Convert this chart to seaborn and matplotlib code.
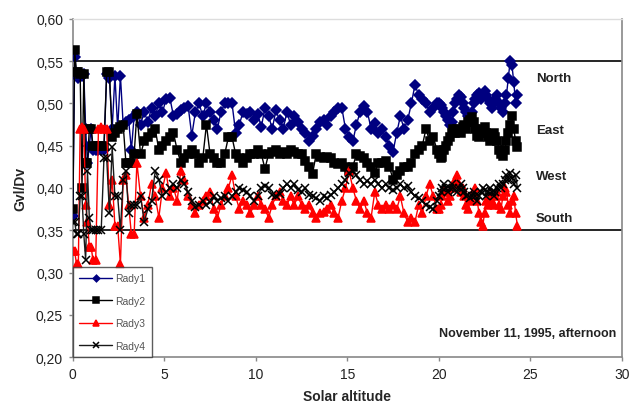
import matplotlib
matplotlib.use("Agg")
import matplotlib.pyplot as plt
from matplotlib.ticker import FuncFormatter
import seaborn as sns
import pandas as pd

# ---- data -----------------------------------------------------------------
x_early = [0.0, 0.1, 0.2, 0.3, 0.4, 0.5, 0.6, 0.7, 0.8, 0.9, 1.0, 1.1, 1.25, 1.4,
           1.55, 1.7, 1.85, 2.0, 2.15, 2.3, 2.45, 2.6, 2.75, 2.9, 3.05, 3.2, 3.35, 3.5]
x_mid = [3.7, 3.9, 4.1, 4.3, 4.5, 4.7, 4.9, 5.1, 5.3, 5.5,
         5.7, 5.9, 6.1, 6.3, 6.5, 6.7, 6.9, 7.1, 7.3, 7.5,
         7.7, 7.9, 8.1, 8.3, 8.5, 8.7, 8.9, 9.1, 9.3, 9.5,
         9.7, 9.9, 10.1, 10.3, 10.5, 10.7, 10.9, 11.1, 11.3, 11.5,
         11.7, 11.9, 12.1, 12.3, 12.5, 12.7, 12.9, 13.1, 13.3, 13.5,
         13.7, 13.9, 14.1, 14.3, 14.5, 14.7, 14.9, 15.1, 15.3, 15.5,
         15.7, 15.9, 16.1, 16.3, 16.5, 16.7, 16.9, 17.1, 17.3, 17.5,
         17.7, 17.9, 18.1, 18.3, 18.5, 18.7, 18.9, 19.1, 19.3, 19.5,
         19.7, 19.9]
x_late = [20.0, 20.1, 20.2, 20.3, 20.4, 20.5, 20.6, 20.7, 20.8, 20.9,
          21.0, 21.1, 21.2, 21.3, 21.4, 21.5, 21.6, 21.7, 21.8, 21.9,
          22.0, 22.1, 22.2, 22.3, 22.4, 22.5, 22.6, 22.7, 22.8, 22.9,
          23.0, 23.1, 23.2, 23.3, 23.4, 23.5, 23.6, 23.7, 23.8, 23.9,
          24.0, 24.1, 24.2, 24.3]
solar_altitude = x_early + x_mid + x_late

rady1 = [0.367, 0.555, 0.532, 0.530, 0.535, 0.533, 0.535, 0.470, 0.430, 0.450,
         0.470, 0.445, 0.445, 0.445, 0.445, 0.445, 0.535, 0.530, 0.470, 0.533,
         0.470, 0.533, 0.475, 0.478, 0.480, 0.445, 0.485, 0.490,
         0.475, 0.490, 0.478, 0.495, 0.485, 0.500, 0.490, 0.505, 0.507, 0.485,
         0.488, 0.492, 0.495, 0.497, 0.462, 0.490, 0.500, 0.485, 0.500, 0.490,
         0.480, 0.470, 0.490, 0.500, 0.500, 0.500, 0.465, 0.475, 0.490, 0.487,
         0.490, 0.480, 0.488, 0.472, 0.495, 0.485, 0.470, 0.492, 0.480, 0.470,
         0.490, 0.475, 0.485, 0.478, 0.470, 0.465, 0.455, 0.462, 0.470, 0.478,
         0.480, 0.475, 0.485, 0.490, 0.495, 0.495, 0.470, 0.460, 0.455, 0.475,
         0.490, 0.497, 0.490, 0.470, 0.477, 0.465, 0.470, 0.460, 0.450, 0.443,
         0.465, 0.485, 0.470, 0.480, 0.500, 0.522, 0.510, 0.505, 0.500, 0.490,
         0.495, 0.500,
         0.500, 0.498, 0.495, 0.490, 0.485, 0.480, 0.475, 0.478, 0.490, 0.500,
         0.505, 0.510, 0.508, 0.500, 0.495, 0.490, 0.485, 0.480, 0.490, 0.500,
         0.505, 0.510, 0.512, 0.505, 0.510, 0.515, 0.510, 0.505, 0.500, 0.495,
         0.500, 0.505, 0.510, 0.500, 0.495, 0.490, 0.500, 0.510, 0.530, 0.550,
         0.545, 0.525, 0.500, 0.510]

rady2 = [0.375, 0.563, 0.537, 0.537, 0.535, 0.400, 0.535, 0.430, 0.430, 0.470,
         0.470, 0.450, 0.450, 0.450, 0.450, 0.450, 0.537, 0.537, 0.460, 0.465,
         0.470, 0.472, 0.475, 0.430, 0.430, 0.430, 0.440, 0.488,
         0.440, 0.455, 0.460, 0.465, 0.470, 0.445, 0.450, 0.455, 0.460, 0.465,
         0.445, 0.430, 0.435, 0.440, 0.445, 0.440, 0.430, 0.435, 0.475, 0.440,
         0.435, 0.430, 0.430, 0.440, 0.460, 0.460, 0.440, 0.435, 0.430, 0.435,
         0.440, 0.440, 0.445, 0.440, 0.423, 0.440, 0.442, 0.445, 0.440, 0.442,
         0.440, 0.445, 0.442, 0.440, 0.440, 0.432, 0.425, 0.417, 0.440, 0.437,
         0.435, 0.437, 0.435, 0.430, 0.428, 0.430, 0.425, 0.420, 0.425, 0.440,
         0.438, 0.435, 0.430, 0.425, 0.418, 0.430, 0.430, 0.432, 0.425, 0.410,
         0.415, 0.420, 0.425, 0.425, 0.430, 0.440, 0.445, 0.450, 0.470, 0.455,
         0.460, 0.445,
         0.440, 0.435, 0.437, 0.445, 0.450, 0.455, 0.460, 0.465, 0.470, 0.465,
         0.470, 0.468, 0.465, 0.472, 0.475, 0.470, 0.478, 0.480, 0.484, 0.478,
         0.470, 0.462, 0.460, 0.465, 0.470, 0.472, 0.465, 0.460, 0.455, 0.460,
         0.465, 0.460, 0.455, 0.445, 0.440, 0.438, 0.445, 0.455, 0.465, 0.475,
         0.485, 0.470, 0.455, 0.448]

rady3 = [0.325, 0.325, 0.310, 0.310, 0.470, 0.472, 0.470, 0.380, 0.360, 0.330,
         0.330, 0.315, 0.315, 0.470, 0.472, 0.470, 0.470, 0.380, 0.410, 0.355,
         0.355, 0.310, 0.410, 0.415, 0.380, 0.345, 0.345, 0.430,
         0.390, 0.365, 0.380, 0.405, 0.390, 0.365, 0.400, 0.418, 0.390, 0.400,
         0.385, 0.420, 0.410, 0.390, 0.380, 0.370, 0.380, 0.385, 0.390, 0.395,
         0.375, 0.365, 0.380, 0.390, 0.400, 0.415, 0.390, 0.375, 0.385, 0.380,
         0.370, 0.380, 0.390, 0.380, 0.375, 0.365, 0.380, 0.390, 0.395, 0.385,
         0.380, 0.390, 0.380, 0.390, 0.380, 0.375, 0.380, 0.370, 0.365, 0.370,
         0.372, 0.375, 0.380, 0.370, 0.365, 0.385, 0.400, 0.420, 0.400, 0.385,
         0.375, 0.385, 0.370, 0.365, 0.395, 0.380, 0.375, 0.380, 0.375, 0.380,
         0.375, 0.390, 0.370, 0.360, 0.365, 0.360, 0.380, 0.370, 0.390, 0.405,
         0.390, 0.375,
         0.375, 0.380, 0.390, 0.400, 0.395, 0.385, 0.390, 0.400, 0.405, 0.410,
         0.415, 0.405, 0.395, 0.400, 0.390, 0.380, 0.375, 0.385, 0.390, 0.395,
         0.400, 0.385, 0.370, 0.360, 0.355, 0.370, 0.385, 0.380, 0.390, 0.385,
         0.380, 0.390, 0.395, 0.380, 0.375, 0.390, 0.400, 0.395, 0.380, 0.370,
         0.385, 0.390, 0.370, 0.355]

rady4 = [0.360, 0.360, 0.345, 0.345, 0.390, 0.390, 0.345, 0.315, 0.420, 0.365,
         0.350, 0.350, 0.350, 0.350, 0.350, 0.435, 0.435, 0.370, 0.448, 0.390,
         0.390, 0.350, 0.410, 0.420, 0.370, 0.380, 0.380, 0.380,
         0.390, 0.360, 0.375, 0.385, 0.420, 0.410, 0.390, 0.395, 0.400, 0.405,
         0.400, 0.410, 0.405, 0.395, 0.385, 0.378, 0.380, 0.385, 0.380, 0.383,
         0.390, 0.385, 0.388, 0.390, 0.385, 0.390, 0.395, 0.400, 0.398, 0.395,
         0.390, 0.385, 0.390, 0.400, 0.402, 0.400, 0.392, 0.390, 0.393, 0.400,
         0.405, 0.400, 0.405, 0.398, 0.395, 0.400, 0.392, 0.390, 0.388, 0.385,
         0.390, 0.388, 0.392, 0.395, 0.400, 0.405, 0.410, 0.418, 0.420, 0.415,
         0.410, 0.405, 0.408, 0.405, 0.410, 0.405, 0.400, 0.405, 0.400, 0.398,
         0.400, 0.405, 0.400, 0.402, 0.395, 0.390, 0.388, 0.385, 0.380, 0.378,
         0.375, 0.385,
         0.390, 0.395, 0.400, 0.405, 0.400, 0.395, 0.400, 0.405, 0.400, 0.398,
         0.395, 0.400, 0.405, 0.400, 0.395, 0.390, 0.392, 0.388, 0.390, 0.395,
         0.390, 0.385, 0.390, 0.395, 0.400, 0.398, 0.390, 0.395, 0.400, 0.395,
         0.390, 0.395, 0.400, 0.405, 0.400, 0.405, 0.410, 0.415, 0.410, 0.418,
         0.412, 0.405, 0.415, 0.400]

series_names = ["Rady1", "Rady2", "Rady3", "Rady4"]
series_values = [rady1, rady2, rady3, rady4]
orientation_labels = ["North", "East", "West", "South"]
orientation_y = [0.530, 0.469, 0.414, 0.365]
reference_levels = [0.55, 0.35]
x_ticks = [0, 5, 10, 15, 20, 25, 30]
y_ticks = [0.20, 0.25, 0.30, 0.35, 0.40, 0.45, 0.50, 0.55, 0.60]

# ---- style ----------------------------------------------------------------
sns.set_style("white")
plt.rcParams["font.family"] = ["Liberation Sans", "DejaVu Sans"]

fig = plt.figure(figsize=(6.39, 4.06), dpi=100)
ax = fig.add_axes([0.114, 0.118, 0.859, 0.833])

styles = {
    "Rady1": dict(color="#000080", marker="D", markersize=4.8, mec="#000080"),
    "Rady2": dict(color="#000000", marker="s", markersize=6.3, mec="#000000"),
    "Rady3": dict(color="#ff0000", marker="^", markersize=6.3, mec="#ff0000"),
    "Rady4": dict(color="#1a1a1a", marker="x", markersize=5.5, mec="#000000"),
}

for i, (name, vals) in enumerate(zip(series_names, series_values)):
    df = pd.DataFrame({"x": solar_altitude, "y": vals})
    st = styles[name]
    sns.lineplot(data=df, x="x", y="y", ax=ax, sort=False, estimator=None,
                 color=st["color"], marker=st["marker"], markersize=st["markersize"],
                 markeredgecolor=st["mec"], markeredgewidth=1.1, linewidth=1.0,
                 label=name, zorder=3 + i)

for lvl in reference_levels:
    ax.axhline(lvl, color="black", linewidth=1.2, zorder=2)

ax.set_xlim(0, 30)
ax.set_ylim(0.20, 0.60)
ax.set_xticks(x_ticks)
ax.set_yticks(y_ticks)
ax.yaxis.set_major_formatter(FuncFormatter(lambda v, p: f"{v:.2f}".replace(".", ",")))
ax.tick_params(axis="both", which="major", direction="out", length=3, width=1,
               color="#888888", labelsize=10, labelcolor="#222222", pad=4)
ax.tick_params(left=True, bottom=True)

for side in ["left", "bottom", "right"]:
    ax.spines[side].set_color("#888888")
    ax.spines[side].set_linewidth(1.2)
ax.spines["top"].set_color("#dddddd")
ax.spines["top"].set_linewidth(1.0)

ax.set_xlabel("Solar altitude", fontsize=10, fontweight="bold", labelpad=6)
ax.set_ylabel("Gvl/Dv", fontsize=10, fontweight="bold", labelpad=6)

for lab, yy in zip(orientation_labels, orientation_y):
    ax.text(25.3, yy, lab, fontsize=9.5, fontweight="bold", color="#222222",
            ha="left", va="center")

ax.text(29.7, 0.228, "November 11, 1995, afternoon", fontsize=9, fontweight="bold",
        color="#222222", ha="right", va="center")

leg = ax.legend(loc="lower left", borderaxespad=0.0, frameon=True, fancybox=False,
                fontsize=7.5, labelspacing=1.2, handlelength=3.2, handletextpad=0.3,
                borderpad=0.6, markerscale=0.7)
leg.get_frame().set_edgecolor("#333333")
leg.get_frame().set_linewidth(1.0)
for t in leg.get_texts():
    t.set_color("#555555")
leg.set_zorder(10)

fig.savefig("out.png", dpi=100)
